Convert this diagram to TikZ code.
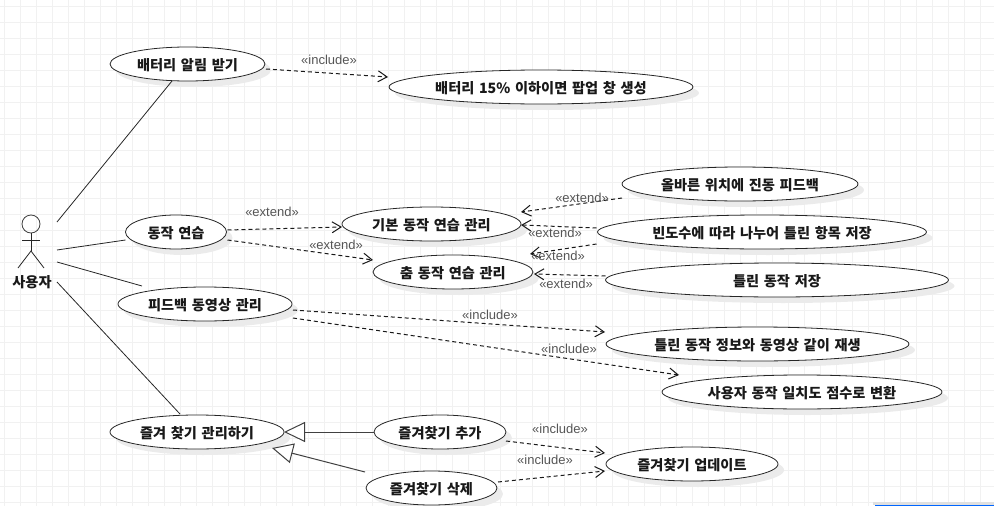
\documentclass[tikz,border=0pt]{standalone}
\usepackage{fontspec}
\setmainfont{Noto Sans CJK KR}
\newfontfamily\stereofont{Liberation Sans}
\usetikzlibrary{shapes.geometric,arrows.meta,shadows}
\definecolor{gridgray}{RGB}{241,241,241}
\definecolor{stereogray}{RGB}{85,85,85}
\definecolor{textdark}{RGB}{25,25,25}
\newcommand{\casefont}{\fontsize{14.2}{16}\selectfont\bfseries\spaceskip 4.7pt\relax}

\tikzset{
    usecase/.style={ellipse, draw=black!85, fill=white, line width=0.8pt, inner sep=0pt, outer sep=0pt,
        minimum height=34pt, text=textdark, font=\casefont,
        text height=13pt, text depth=0pt,
        drop shadow={shadow xshift=6pt, shadow yshift=-6pt, fill=black!8, opacity=1}},
    assoc/.style={draw=black!85, line width=0.8pt},
    dep/.style={-{Straight Barb[length=9pt,width=11pt]}, draw=black!90, line width=1pt, dash pattern=on 4pt off 3pt},
    gen/.style={-{Triangle[open,length=21pt,width=20pt,fill=white]}, draw=black!75, line width=1pt},
    stereo/.style={font=\fontsize{13}{15}\stereofont, text=stereogray, inner sep=0pt}
}

\begin{document}
\begin{tikzpicture}[x=1pt, y=-1pt]
\useasboundingbox (0,0) rectangle (994,506);
% paper grid
\foreach \gx in {4,20,...,996} \draw[gridgray, line width=0.8pt] (\gx,0) -- (\gx,506);
\foreach \gy in {6,22,...,502} \draw[gridgray, line width=0.8pt] (0,\gy) -- (994,\gy);
\fill[black!12] (873,502) rectangle (994,505);
\draw[blue!60!cyan, line width=1pt] (875,505.5) -- (994,505.5);

% actor
\node[circle, draw=black!75, line width=0.8pt, minimum size=18pt, inner sep=0pt] (head) at (31,224) {};
\coordinate (hip) at (31,251);
\draw[assoc] (head) -- (hip);
\draw[assoc] (22,240) -- (40,240);
\draw[assoc] (18,268) -- (hip) -- (44,268);
\node[font=\casefont, text=textdark, inner sep=0pt, text height=13pt, text depth=0pt] (actorlabel) at (32,281) {사용자};
\node[minimum width=52pt, minimum height=76pt, inner sep=0pt, outer sep=0pt] (actor) at (31,250) {};

% use cases
\node[usecase, minimum width=155pt] (batalert) at (187.5,64) {배터리 알림 받기};
\node[usecase, minimum width=304pt] (batpopup) at (541,87) {배터리 15\% 이하이면 팝업 창 생성};
\node[usecase, minimum width=236pt] (vibrate) at (740,184) {올바른 위치에 진동 피드백};
\node[usecase, minimum width=329pt] (freqsave) at (762,232) {빈도수에 따라 나누어 틀린 항목 저장};
\node[usecase, minimum width=343pt] (wrongsave) at (777,280) {틀린 동작 저장};
\node[usecase, minimum width=179pt] (basic) at (431.5,224) {기본 동작 연습 관리};
\node[usecase, minimum width=160pt] (dance) at (453,272) {춤 동작 연습 관리};
\node[usecase, minimum width=101pt] (practice) at (176,232) {동작 연습};
\node[usecase, minimum width=174pt] (feedback) at (205,304) {피드백 동영상 관리};
\node[usecase, minimum width=303pt] (replay) at (757.5,344) {틀린 동작 정보와 동영상 같이 재생};
\node[usecase, minimum width=280pt] (score) at (802,392) {사용자 동작 일치도 점수로 변환};
\node[usecase, minimum width=174pt] (favmanage) at (197,432) {즐겨 찾기 관리하기};
\node[usecase, minimum width=132pt] (favadd) at (440,432) {즐겨찾기 추가};
\node[usecase, minimum width=131pt] (favdel) at (431.5,488) {즐겨찾기 삭제};
\node[usecase, minimum width=172pt] (favupdate) at (692,464) {즐겨찾기 업데이트};

% actor associations
\draw[assoc] ([shift={(0,-28)}]actor.east) -- ([shift={(-15.5,0)}]batalert.south);
\draw[assoc] (actor.east) -- ([shift={(0,8)}]practice.west);
\draw[assoc] ([shift={(0,12)}]actor.east) -- ([shift={(-63,-1)}]feedback.north);
\draw[assoc] ([shift={(0,32)}]actor.east) -- ([shift={(-17,-1)}]favmanage.north);

% dependencies
\draw[dep] ([shift={(1,5)}]batalert.east) -- ([shift={(-1,-10)}]batpopup.west);
\draw[dep] ([shift={(1,-2)}]practice.east) -- ([shift={(0,3)}]basic.west);
\draw[dep] ([shift={(1,8)}]practice.east) -- ([shift={(0,-12)}]dance.west);
\draw[dep] ([shift={(0,14)}]vibrate.west) -- ([shift={(0,-12)}]basic.east);
\draw[dep] ([shift={(-1,-4)}]freqsave.west) -- ([shift={(0,1)}]basic.east);
\draw[dep] ([shift={(-1,12)}]freqsave.west) -- ([shift={(-3,-18)}]dance.east);
\draw[dep] ([shift={(0,-4)}]wrongsave.west) -- ([shift={(1,2)}]dance.east);
\draw[dep] ([shift={(1,6)}]feedback.east) -- ([shift={(-1,-12)}]replay.west);
\draw[dep] ([shift={(1,14)}]feedback.east) -- ([shift={(17,-17)}]score.west);
\draw[dep] ([shift={(0,9)}]favadd.east) -- ([shift={(-1,-11)}]favupdate.west);
\draw[dep] ([shift={(1,-6)}]favdel.east) -- ([shift={(-1,7)}]favupdate.west);

% generalizations
\draw[gen] (favadd.west) -- (favmanage.east);
\draw[gen] ([shift={(-1,-16)}]favdel.west) -- ([shift={(-12,16)}]favmanage.east);

% stereotypes
\node[stereo] (lbinc1) at (329,60) {«include»};
\node[stereo] (lbext1) at (272,212) {«extend»};
\node[stereo] (lbext2) at (336,245) {«extend»};
\node[stereo] (lbext3) at (582,198) {«extend»};
\node[stereo] (lbext4) at (555,233) {«extend»};
\node[stereo] (lbext5) at (558,256) {«extend»};
\node[stereo] (lbext6) at (566,284) {«extend»};
\node[stereo] (lbinc2) at (490,315) {«include»};
\node[stereo] (lbinc3) at (569,349) {«include»};
\node[stereo] (lbinc4) at (560,429) {«include»};
\node[stereo] (lbinc5) at (545,460) {«include»};
\end{tikzpicture}
\end{document}
